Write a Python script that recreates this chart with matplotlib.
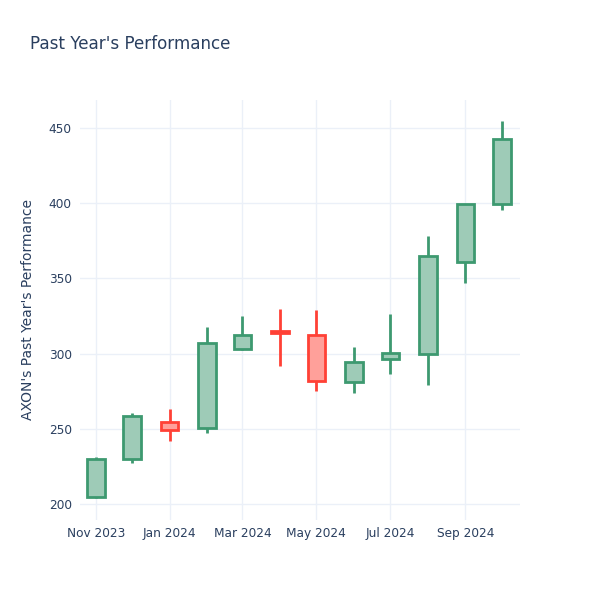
import matplotlib
matplotlib.use("Agg")
import matplotlib.pyplot as plt
import matplotlib.dates as mdates
import numpy as np
from datetime import datetime, timedelta

# monthly OHLC
months = ["2023-11-01", "2023-12-01", "2024-01-01", "2024-02-01", "2024-03-01", "2024-04-01",
          "2024-05-01", "2024-06-01", "2024-07-01", "2024-08-01", "2024-09-01", "2024-10-01"]
opens = [205.0, 229.7, 254.7, 250.5, 303.0, 315.0, 312.4, 281.1, 296.4, 300.0, 360.9, 399.5]
highs = [231.4, 260.3, 263.0, 318.0, 325.0, 329.6, 329.0, 304.2, 326.1, 378.0, 399.5, 454.7]
lows = [204.0, 227.0, 242.0, 247.4, 302.5, 291.8, 275.3, 273.6, 286.6, 279.0, 346.7, 395.3]
closes = [229.9, 258.5, 249.0, 307.0, 312.4, 314.0, 281.8, 294.4, 300.4, 364.9, 399.3, 442.9]

title = "Past Year's Performance"
ylabel = "AXON's Past Year's Performance"

inc_line, inc_fill = "#3D9970", "#9ecbb7"
dec_line, dec_fill = "#FF4136", "#ffa09a"
text_col = "#2a3f5f"
grid_col = "#ebf0f8"

plt.rcParams['font.family'] = ['DejaVu Sans']

fig = plt.figure(figsize=(6, 6), dpi=100)
ax = fig.add_axes([80/600, 80/600, 440/600, 420/600])

dates = [datetime.strptime(d, "%Y-%m-%d") for d in months]
xs = mdates.date2num(dates)
width = 14.5

for x, o, h, l, c in zip(xs, opens, highs, lows, closes):
    up = c >= o
    lc = inc_line if up else dec_line
    fc = inc_fill if up else dec_fill
    top, bot = max(o, c), min(o, c)
    ax.plot([x, x], [top, h], color=lc, lw=2, solid_capstyle='butt', zorder=3)
    ax.plot([x, x], [l, bot], color=lc, lw=2, solid_capstyle='butt', zorder=3)
    ax.bar(x, top - bot if top - bot > 0.3 else 0.3, bottom=bot, width=width,
           facecolor=fc, edgecolor=lc, linewidth=2, zorder=4)

ax.set_xlim(mdates.date2num(datetime(2023, 10, 19)), mdates.date2num(datetime(2024, 10, 16)))
ax.set_ylim(189.4, 468.6)

ax.xaxis.set_major_locator(mdates.MonthLocator(bymonth=[1, 3, 5, 7, 9, 11]))
ax.xaxis.set_major_formatter(mdates.DateFormatter('%b %Y'))
ax.set_yticks([200, 250, 300, 350, 400, 450])

ax.grid(True, color=grid_col, linewidth=1)
ax.set_axisbelow(True)
for s in ax.spines.values():
    s.set_visible(False)
ax.tick_params(length=0, labelsize=8.7, colors=text_col, pad=6)
ax.tick_params(axis='x', pad=5)

fig.text(30/600, 1 - 44/600, title, fontsize=12.1, color=text_col, va='center', ha='left')
fig.text(28/600, 1 - 309/600, ylabel, fontsize=10.0, color=text_col, va='center', ha='center', rotation=90)

fig.savefig("out.png", dpi=100, facecolor='white')
